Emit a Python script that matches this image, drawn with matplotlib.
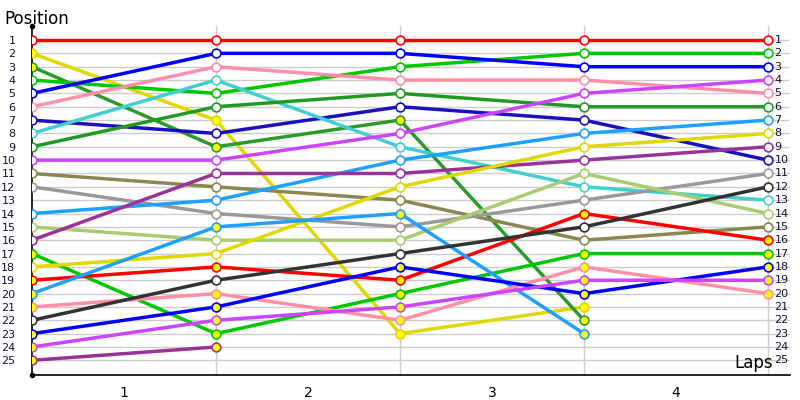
import matplotlib
matplotlib.use("Agg")
import matplotlib.pyplot as plt

# positions at start, after lap 1, 2, 3, 4 (shorter list = retired)
drivers = [
    ("#ff0000", [1, 1, 1, 1, 1], False),
    ("#e0d800", [2, 7, 23, 21], True),
    ("#2a9a2a", [3, 9, 7, 22], True),
    ("#00c800", [4, 5, 3, 2, 2], False),
    ("#0000ff", [5, 2, 2, 3, 3], False),
    ("#ff8fa8", [6, 3, 4, 4, 5], False),
    ("#1a10c0", [7, 8, 6, 7, 10], False),
    ("#40d0d0", [8, 4, 9, 12, 13], False),
    ("#229922", [9, 6, 5, 6, 6], False),
    ("#cc44ff", [10, 10, 8, 5, 4], False),
    ("#888850", [11, 12, 13, 16, 15], False),
    ("#999999", [12, 14, 15, 13, 11], False),
    ("#1ea0ff", [14, 13, 10, 8, 7], False),
    ("#a8cc70", [15, 16, 16, 11, 14], False),
    ("#993399", [16, 11, 11, 10, 9], False),
    ("#00c800", [17, 23, 20, 17, 17], True),
    ("#e0d800", [18, 17, 12, 9, 8], False),
    ("#ff0000", [19, 18, 19, 14, 16], True),
    ("#1ea0ff", [20, 15, 14, 23], True),
    ("#ff8fa8", [21, 20, 22, 18, 20], True),
    ("#333333", [22, 19, 17, 15, 12], False),
    ("#0000ff", [23, 21, 18, 20, 18], True),
    ("#cc44ff", [24, 22, 21, 19, 19], True),
    ("#993399", [25, 24], True),
]
lap_labels = ["1", "2", "3", "4"]

fig = plt.figure(figsize=(8, 4), dpi=100)
ax = fig.add_axes([0.04, 0.0625, 0.9475, 0.8725])

for pos in range(1, 26):
    ax.axhline(pos, color="#cccccc", lw=1, zorder=0)
for x in range(1, 5):
    ax.axvline(x, color="#cccccc", lw=1, zorder=0)

for color, pos, lapped in drivers:
    xs = list(range(len(pos)))
    ax.plot(xs, pos, color=color, lw=2.5, zorder=2)
    ax.scatter(xs, pos, s=40, facecolor="#ffff00" if lapped else "white",
               edgecolor=color, lw=1.2, zorder=3)

ax.set_xlim(0, 4.12)
ax.set_ylim(26.1, -0.05)
ax.set_yticks(range(1, 26))
ax.set_yticklabels([str(i) for i in range(1, 26)], fontsize=8, color="#111133")
ax.tick_params(axis="y", length=0, pad=12)
ax.set_xticks([0.5, 1.5, 2.5, 3.5])
ax.set_xticklabels(lap_labels, fontsize=10)
ax.tick_params(axis="x", length=0, pad=8)
for pos in range(1, 26):
    ax.text(4.035, pos, str(pos), fontsize=8, va="center", ha="left", color="#111133")

for s in ["top", "right"]:
    ax.spines[s].set_visible(False)
ax.spines["left"].set_linewidth(1.2)
ax.spines["bottom"].set_linewidth(1.2)
ax.plot([0], [-0.05], marker="o", ms=3, color="black", clip_on=False)
ax.plot([0], [26.1], marker="o", ms=3, color="black", clip_on=False)

fig.text(0.005, 0.94, "Position", fontsize=12)
ax.text(4.03, 25.9, "Laps", fontsize=12, ha="right", va="bottom")

fig.savefig("out.png")
